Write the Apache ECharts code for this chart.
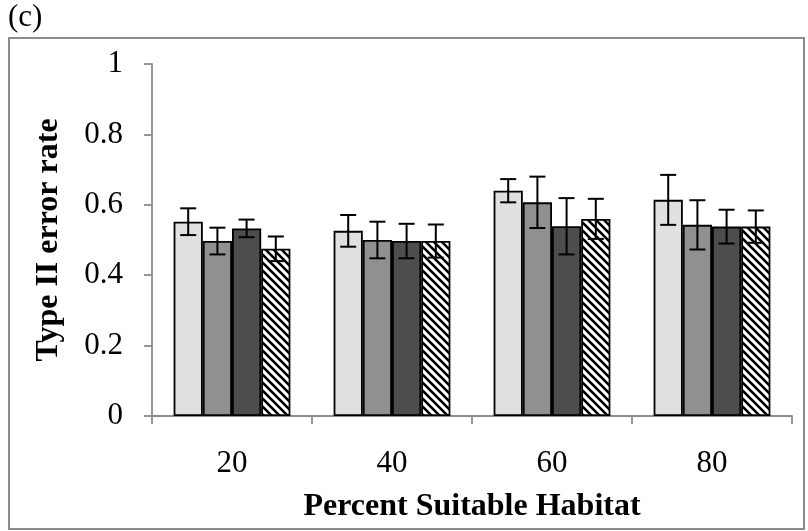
<!DOCTYPE html>
<html>
<head>
<meta charset="utf-8">
<script src="https://cdn.jsdelivr.net/npm/echarts@6/dist/echarts.min.js"></script>
<style>html,body{margin:0;padding:0;background:#fff}#c{width:808px;height:531px}</style>
</head>
<body>
<div id="c"></div>
<script>
var categories = ['20', '40', '60', '80'];
var yTicks = [0, 0.2, 0.4, 0.6, 0.8, 1];
var s1 = [0.552, 0.526, 0.640, 0.614];
var s2 = [0.497, 0.500, 0.607, 0.543];
var s3 = [0.533, 0.497, 0.539, 0.538];
var s4 = [0.475, 0.497, 0.560, 0.538];
var e1 = [0.038, 0.045, 0.033, 0.071];
var e2 = [0.038, 0.052, 0.073, 0.070];
var e3 = [0.025, 0.049, 0.080, 0.048];
var e4 = [0.035, 0.047, 0.057, 0.046];

var values = [s1, s2, s3, s4];
var errors = [e1, e2, e3, e4];
var colors = ['#e0e0e0', '#909090', '#4d4d4d', null];

var pc = document.createElement('canvas');
pc.width = 8; pc.height = 8;
var g = pc.getContext('2d');
g.fillStyle = '#fff'; g.fillRect(0, 0, 8, 8);
g.strokeStyle = '#000'; g.lineWidth = 2.6;
g.beginPath();
g.moveTo(-2, -2); g.lineTo(10, 10);
g.moveTo(-10, -2); g.lineTo(2, 10);
g.moveTo(6, -2); g.lineTo(18, 10);
g.stroke();

var GAP = 0.27;
var series = [];
values.forEach(function (vals, i) {
  series.push({
    type: 'bar',
    data: vals,
    barGap: '0%',
    barCategoryGap: (GAP * 100) + '%',
    itemStyle: {
      color: colors[i] ? colors[i] : { image: pc, repeat: 'repeat' },
      borderColor: '#000',
      borderWidth: 1.8
    },
    z: 2
  });
});
values.forEach(function (vals, i) {
  series.push({
    type: 'custom',
    z: 5,
    data: vals.map(function (v, k) { return [k, v - errors[i][k], v + errors[i][k]]; }),
    encode: { x: 0, y: [1, 2] },
    renderItem: function (params, api) {
      var k = api.value(0);
      var lo = api.coord([k, api.value(1)]);
      var hi = api.coord([k, api.value(2)]);
      var cw = api.size([1, 0])[0];
      var bw = cw * (1 - GAP) / 4;
      var x = lo[0] + (i - 1.5) * bw;
      var cap = 8;
      var st = { stroke: '#000', lineWidth: 2 };
      return {
        type: 'group',
        children: [
          { type: 'line', shape: { x1: x, y1: lo[1], x2: x, y2: hi[1] }, style: st },
          { type: 'line', shape: { x1: x - cap, y1: lo[1], x2: x + cap, y2: lo[1] }, style: st },
          { type: 'line', shape: { x1: x - cap, y1: hi[1], x2: x + cap, y2: hi[1] }, style: st }
        ]
      };
    }
  });
});

var font = 'Liberation Serif';
var chart = echarts.init(document.getElementById('c'), null, { renderer: 'canvas' });
chart.setOption({
  animation: false,
  backgroundColor: '#fff',
  grid: { left: 152, right: 16, top: 64, bottom: 115, containLabel: false },
  graphic: [
    { type: 'rect', shape: { x: 9, y: 38, width: 795, height: 491 }, style: { fill: 'none', stroke: '#8c8c8c', lineWidth: 2 }, z: 0 },
    { type: 'text', left: 8, top: 2, style: { text: '(c)', font: '31px "Liberation Serif"', fill: '#000' } }
  ],
  xAxis: {
    type: 'category',
    data: categories,
    name: 'Percent Suitable Habitat',
    nameLocation: 'middle',
    nameGap: 75,
    nameTextStyle: { fontFamily: font, fontSize: 32, fontWeight: 'bold', color: '#000' },
    axisLine: { lineStyle: { color: '#8c8c8c', width: 1.8 } },
    axisTick: { show: true, length: 8, lineStyle: { color: '#8c8c8c', width: 1.8 } },
    axisLabel: { fontFamily: font, fontSize: 31, color: '#000', margin: 32 },
    splitLine: { show: false }
  },
  yAxis: {
    type: 'value',
    min: 0, max: 1, interval: 0.2,
    name: 'Type II error rate',
    nameLocation: 'middle',
    nameGap: 87,
    nameTextStyle: { fontFamily: font, fontSize: 32, fontWeight: 'bold', color: '#000' },
    axisLine: { show: true, lineStyle: { color: '#8c8c8c', width: 1.8 } },
    axisTick: { show: true, length: 8, lineStyle: { color: '#8c8c8c', width: 1.8 } },
    axisLabel: {
      fontFamily: font, fontSize: 31, color: '#000', margin: 29,
      formatter: function (v) {
        var t = yTicks.filter(function (y) { return Math.abs(y - v) < 1e-9; });
        return t.length ? String(t[0]) : '';
      }
    },
    splitLine: { show: false }
  },
  series: series
});
</script>
</body>
</html>
